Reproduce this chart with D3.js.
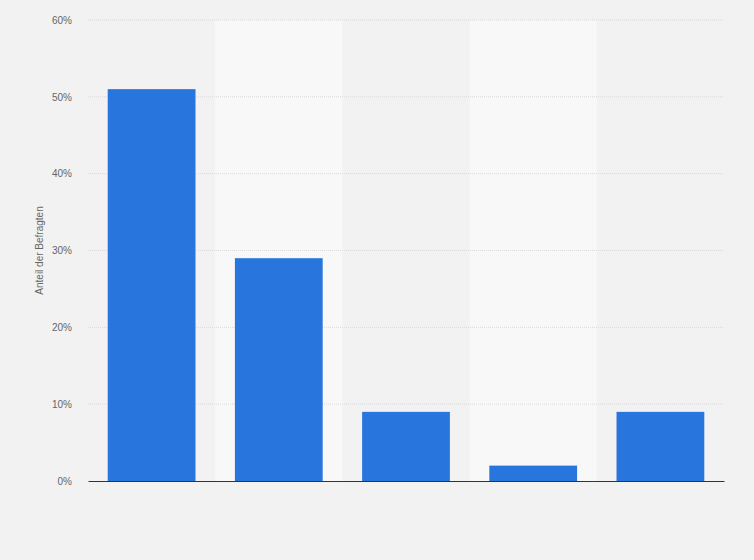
<!DOCTYPE html>
<html>
<head>
  <script src="https://d3js.org/d3.v7.min.js"></script>
  <style>
    body { margin: 0; padding: 0; background: #f2f2f2; overflow: hidden; }
    svg { display: block; }
  </style>
</head>
<body>
  <svg width="754" height="560"></svg>
  <script>
    // categories have no visible labels in the chart
    const categories = ["Kat. 1", "Kat. 2", "Kat. 3", "Kat. 4", "Kat. 5"];
    const values = [51, 29, 9, 2, 9];
    const yTicks = [0, 10, 20, 30, 40, 50, 60];

    const svg = d3.select("svg"),
          margin = { top: 20, right: 30, bottom: 79, left: 88 },
          width = +svg.attr("width") - margin.left - margin.right,
          height = +svg.attr("height") - margin.top - margin.bottom,
          g = svg.append("g").attr("transform", "translate(" + margin.left + "," + margin.top + ")");

    svg.insert("rect", ":first-child")
      .attr("width", 754).attr("height", 560).attr("fill", "#f2f2f2");

    const x = d3.scaleBand().domain(categories).range([0, width]).paddingInner(0).paddingOuter(0);
    const y = d3.scaleLinear().domain([0, 60]).range([height, 0]);

    // alternating column backgrounds
    g.selectAll(".band")
      .data(categories.filter((d, i) => i % 2 === 1))
      .enter().append("rect")
        .attr("class", "band")
        .attr("x", d => x(d))
        .attr("y", 0)
        .attr("width", x.bandwidth())
        .attr("height", height)
        .attr("fill", "#f8f8f8");

    // gridlines
    g.selectAll(".grid")
      .data(yTicks.filter(d => d > 0))
      .enter().append("line")
        .attr("class", "grid")
        .attr("x1", 0).attr("x2", width)
        .attr("y1", d => y(d)).attr("y2", d => y(d))
        .attr("stroke", "#d9d9d9")
        .attr("stroke-dasharray", "1,1");

    const yAxis = g.append("g")
      .call(d3.axisLeft(y).tickValues(yTicks).tickFormat(d => d + "%").tickSize(0).tickPadding(16));
    yAxis.select(".domain").remove();
    yAxis.selectAll("text")
      .attr("font-family", "'Liberation Sans', Arial, sans-serif")
      .attr("font-size", "10px")
      .attr("fill", "#666");

    const barW = x.bandwidth() * 0.69;
    g.selectAll(".bar")
      .data(values)
      .enter().append("rect")
        .attr("class", "bar")
        .attr("x", (d, i) => x(categories[i]) + (x.bandwidth() - barW) / 2)
        .attr("y", d => y(d))
        .attr("width", barW)
        .attr("height", d => height - y(d))
        .attr("fill", "#2876dd");

    const xAxis = g.append("g")
      .attr("transform", "translate(0," + height + ")")
      .call(d3.axisBottom(x).tickSize(0).tickFormat(""));
    xAxis.select(".domain").attr("stroke", "#333").attr("stroke-width", 1.2);

    svg.append("text")
      .attr("transform", "translate(43," + (margin.top + height / 2) + ") rotate(-90)")
      .attr("text-anchor", "middle")
      .attr("font-family", "'Liberation Sans', Arial, sans-serif")
      .attr("font-size", "10px")
      .attr("fill", "#666")
      .text("Anteil der Befragten");
  </script>
</body>
</html>
